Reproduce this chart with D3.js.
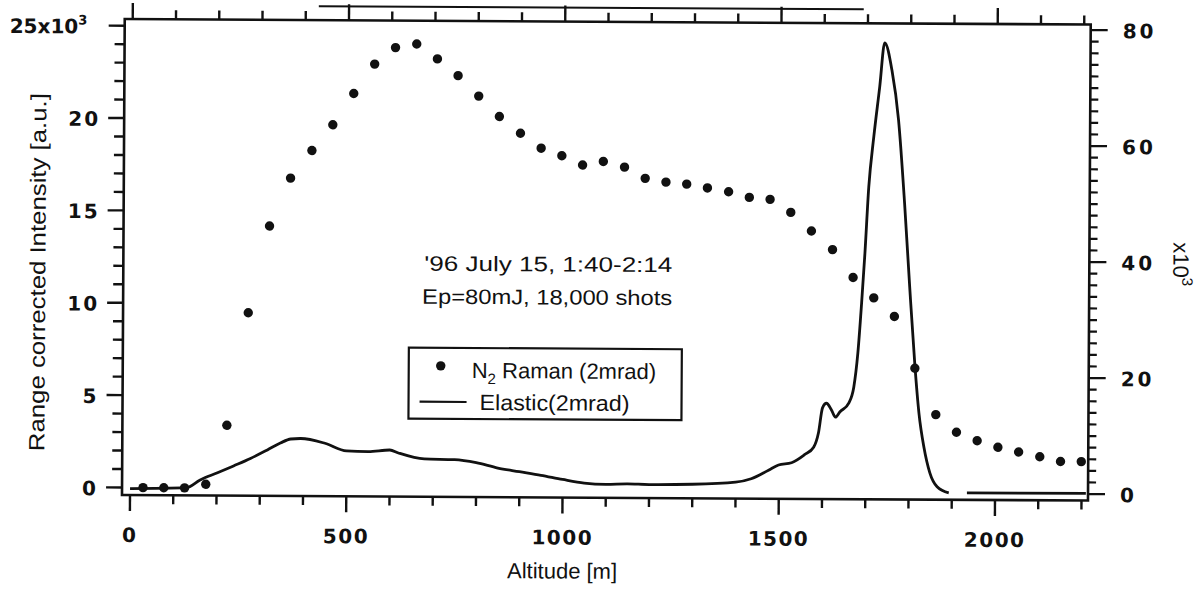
<!DOCTYPE html>
<html>
<head>
<meta charset="utf-8">
<script src="https://cdn.jsdelivr.net/npm/d3@7"></script>
<style>
  body { margin: 0; background: #fff; }
  svg { display: block; }
  text { fill: #111; }
</style>
</head>
<body>
<script>
// Raman (left axis, x10^3) sampled altitudes [m]
const ramanAlt = [30, 78, 126, 175, 223, 271, 319, 367, 416, 464, 512, 560, 608, 657, 705,
  753, 801, 849, 898, 946, 994, 1042, 1090, 1139, 1187, 1235, 1283, 1331, 1380, 1428,
  1476, 1524, 1572, 1621, 1669, 1717, 1765, 1813, 1862, 1910, 1958, 2006, 2054, 2103, 2151, 2199];
const ramanVal = [0.0, 0.0, 0.0, 0.2, 3.4, 9.5, 14.2, 16.8, 18.3, 19.7, 21.4, 23.0, 23.9, 24.1, 23.3,
  22.4, 21.3, 20.2, 19.3, 18.5, 18.1, 17.6, 17.8, 17.5, 16.9, 16.7, 16.6, 16.4, 16.2, 15.9,
  15.8, 15.1, 14.1, 13.1, 11.6, 10.5, 9.5, 6.7, 4.2, 3.25, 2.8, 2.45, 2.2, 1.95, 1.7, 1.7];

// Elastic (right axis, x10^3); null = gap in the trace
const elasticAlt = [0, 130, 162, 202, 239, 278, 317, 347, 371, 394, 450, 500, 550, 600, 620, 680,
  750, 800, 850, 900, 950, 1000, 1050, 1100, 1150, 1200, 1300, 1400, 1436, 1476, 1499, 1529,
  1559, 1580, 1591, 1600, 1609, 1621, 1630, 1640, 1661, 1672, 1681, 1689, 1696, 1704, 1715,
  1728, 1739, 1756, 1772, 1787, 1800, 1813, 1823, 1835, 1849, 1866, 1893, 1912, 1935, 2210];
const elasticVal = [0, 0.2, 1.55, 2.8, 4.0, 5.3, 6.8, 8.0, 8.7, 8.8, 8.0, 6.7, 6.6, 6.9, 6.4, 5.4,
  5.3, 4.8, 3.9, 3.3, 2.7, 2.0, 1.4, 1.2, 1.3, 1.2, 1.3, 1.7, 2.3, 3.8, 4.7, 5.1,
  6.5, 7.8, 10.3, 14.6, 15.4, 14.2, 13.0, 13.9, 15.5, 18.2, 24.1, 32.7, 41.3, 52.7, 61.4,
  70.0, 77.6, 72.9, 64.3, 50.0, 35.5, 22.0, 13.8, 7.9, 3.5, 1.1, 0.05, null, 0.1, 0.1];

const xTicks = [0, 500, 1000, 1500, 2000];
const leftTicks = [0, 5, 10, 15, 20];
const rightTicks = [0, 20, 40, 60, 80];

const W = 1201, H = 589;
const frame = {left: 122, right: 1088, top: 19, bottom: 495};
const tilt = 0.33; // scan is slightly rotated

const x = d3.scaleLinear().domain([0, 2000]).range([130, 995]);
const yL = d3.scaleLinear().domain([0, 25]).range([487.5, 25.7]);
const yR = d3.scaleLinear().domain([0, 80]).range([488.5, 24.5]);

const svg = d3.select('body').append('svg')
  .attr('width', W)
  .attr('height', H);

const g = svg.append('g')
  .attr('transform', `rotate(${tilt},${frame.left},${frame.bottom})`);

const font = 'Liberation Sans, Arial, sans-serif';
const numFont = 'DejaVu Sans, sans-serif';

// frame
g.append('rect')
  .attr('x', frame.left).attr('y', frame.top)
  .attr('width', frame.right - frame.left)
  .attr('height', frame.bottom - frame.top)
  .attr('fill', 'none').attr('stroke', '#111').attr('stroke-width', 2.6);

// scan artefact line above the top axis
g.append('line')
  .attr('x1', x(430)).attr('x2', x(1690))
  .attr('y1', frame.top - 14).attr('y2', frame.top - 14)
  .attr('stroke', '#111').attr('stroke-width', 2);

// x ticks, bottom (down) and top (up)
const xMinor = d3.range(0, 2201, 100);
[[frame.bottom, 1], [frame.top, -1]].forEach(([y0, dir]) => {
  g.selectAll(null).data(xMinor).enter().append('line')
    .attr('x1', d => x(d)).attr('x2', d => x(d))
    .attr('y1', y0).attr('y2', d => y0 + dir * (d % 500 === 0 ? 16 : 9))
    .attr('stroke', '#111').attr('stroke-width', 2.4);
});

g.selectAll(null).data(xTicks).enter().append('text')
  .attr('x', d => x(d)).attr('y', frame.bottom + 47)
  .attr('text-anchor', 'middle')
  .attr('font-family', numFont).attr('font-size', 20).attr('font-weight', 'bold')
  .attr('letter-spacing', 1.5)
  .text(d => d);

g.append('text')
  .attr('x', x(1000)).attr('y', 576)
  .attr('text-anchor', 'middle')
  .attr('font-family', font).attr('font-size', 22)
  .text('Altitude  [m]');

// left axis ticks (outward)
g.selectAll(null).data(d3.range(0, 26, 1)).enter().append('line')
  .attr('x1', frame.left).attr('x2', d => frame.left - (d % 5 === 0 ? 16 : 10))
  .attr('y1', d => yL(d)).attr('y2', d => yL(d))
  .attr('stroke', '#111').attr('stroke-width', 2.4);

g.selectAll(null).data(leftTicks).enter().append('text')
  .attr('x', 98).attr('y', d => yL(d) + 8)
  .attr('text-anchor', 'end')
  .attr('font-family', numFont).attr('font-size', 20).attr('font-weight', 'bold')
  .attr('letter-spacing', 2)
  .text(d => d);

const topLabel = g.append('text')
  .attr('x', 7).attr('y', yL(25) + 8)
  .attr('font-family', numFont).attr('font-size', 20).attr('font-weight', 'bold');
topLabel.append('tspan').text('25x10');
topLabel.append('tspan').attr('dy', -9).attr('font-size', 13).text('3');

g.append('text')
  .attr('transform', `translate(44,${(yL(0) + yL(25)) / 2 + 16}) rotate(-90)`)
  .attr('text-anchor', 'middle')
  .attr('font-family', font).attr('font-size', 22)
  .attr('textLength', 358).attr('lengthAdjust', 'spacingAndGlyphs')
  .text('Range corrected Intensity [a.u.]');

// right axis ticks (outward)
g.selectAll(null).data(d3.range(0, 81, 2)).enter().append('line')
  .attr('x1', frame.right).attr('x2', d => frame.right + (d % 20 === 0 ? 17 : 8))
  .attr('y1', d => yR(d)).attr('y2', d => yR(d))
  .attr('stroke', '#111').attr('stroke-width', 2.2);

g.selectAll(null).data(rightTicks).enter().append('text')
  .attr('x', 1120).attr('y', d => yR(d) + 8)
  .attr('font-family', numFont).attr('font-size', 20).attr('font-weight', 'bold')
  .attr('letter-spacing', 3)
  .text(d => d);

const rightLabel = g.append('text')
  .attr('transform', `translate(1172,258) rotate(90)`)
  .attr('text-anchor', 'middle')
  .attr('font-family', font).attr('font-size', 22);
rightLabel.append('tspan').text('x10');
rightLabel.append('tspan').attr('dy', -9).attr('font-size', 15).text('3');

// elastic line
const line = d3.line()
  .defined((d, i) => elasticVal[i] !== null)
  .x((d, i) => x(elasticAlt[i]))
  .y((d, i) => yR(elasticVal[i]))
  .curve(d3.curveMonotoneX);

g.append('path')
  .datum(elasticAlt)
  .attr('d', line)
  .attr('fill', 'none').attr('stroke', '#111').attr('stroke-width', 2.8)
  .attr('stroke-linejoin', 'round');

// raman dots
g.selectAll(null).data(ramanAlt).enter().append('circle')
  .attr('cx', d => x(d))
  .attr('cy', (d, i) => yL(ramanVal[i]))
  .attr('r', 4.7)
  .attr('fill', '#111');

// annotation
g.append('text').attr('x', 423).attr('y', 269)
  .attr('font-family', font).attr('font-size', 21)
  .attr('textLength', 248).attr('lengthAdjust', 'spacingAndGlyphs')
  .text("'96  July  15,  1:40-2:14");
g.append('text').attr('x', 421).attr('y', 302)
  .attr('font-family', font).attr('font-size', 21)
  .attr('textLength', 250).attr('lengthAdjust', 'spacingAndGlyphs')
  .text("Ep=80mJ,  18,000  shots");

// legend
const lg = g.append('g');
lg.append('rect')
  .attr('x', 408).attr('y', 346).attr('width', 273).attr('height', 71)
  .attr('fill', '#fff').attr('stroke', '#111').attr('stroke-width', 2.2);
lg.append('circle').attr('cx', 440).attr('cy', 364).attr('r', 4.7).attr('fill', '#111');
const lt = lg.append('text').attr('x', 471).attr('y', 376)
  .attr('font-family', font).attr('font-size', 22);
lt.append('tspan').text('N');
lt.append('tspan').attr('dy', 6).attr('font-size', 15).text('2');
lt.append('tspan').attr('dy', -6).text(' Raman (2mrad)');
lg.append('line').attr('x1', 419).attr('x2', 466).attr('y1', 400).attr('y2', 400)
  .attr('stroke', '#111').attr('stroke-width', 2.2);
lg.append('text').attr('x', 479).attr('y', 408)
  .attr('font-family', font).attr('font-size', 22)
  .attr('textLength', 150).attr('lengthAdjust', 'spacingAndGlyphs')
  .text('Elastic(2mrad)');
</script>
</body>
</html>
